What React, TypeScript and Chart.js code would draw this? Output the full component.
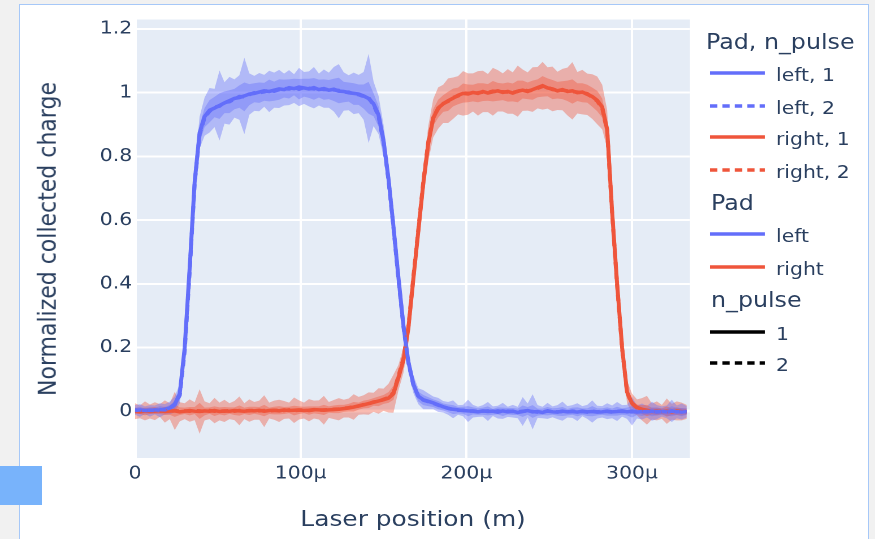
import React, { useEffect, useRef } from 'react';
import { Chart, registerables } from 'chart.js';

Chart.register(...registerables);

// horizontal stretch of the reference picture
const CW = 774;
const CH = 539;
const K = 875 / CW;

// ---------------- data (laser position in µm) ----------------
const X_UM = [
  0, 3, 6, 9, 12, 15, 18, 21, 24, 27,
  30, 33, 36, 39, 42, 45, 48, 51, 54, 57,
  60, 63, 66, 69, 72, 75, 78, 81, 84, 87,
  90, 93, 96, 99, 102, 105, 108, 111, 114, 117,
  120, 123, 126, 129, 132, 135, 138, 141, 144, 147,
  150, 153, 156, 159, 162, 165, 168, 171, 174, 177,
  180, 183, 186, 189, 192, 195, 198, 201, 204, 207,
  210, 213, 216, 219, 222, 225, 228, 231, 234, 237,
  240, 243, 246, 249, 252, 255, 258, 261, 264, 267,
  270, 273, 276, 279, 282, 285, 288, 291, 294, 297,
  300, 303, 306, 309, 312, 315, 318, 321, 324, 327, 330, 333,
];

const LEFT_N1 = [
  0.004, 0.002, 0.003, 0.001, 0.004, 0.003, 0.006, 0.01, 0.022, 0.055,
  0.2, 0.45, 0.72, 0.875, 0.925, 0.945, 0.952, 0.96, 0.968, 0.975,
  0.982, 0.985, 0.99, 0.996, 0.998, 1.002, 1.006, 1.004, 1.008, 1.012,
  1.01, 1.016, 1.013, 1.018, 1.015, 1.012, 1.016, 1.01, 1.013, 1.008,
  1.011, 1.005, 1.004, 1.0, 0.998, 0.996, 0.99, 0.982, 0.965, 0.93,
  0.85, 0.73, 0.58, 0.42, 0.27, 0.155, 0.085, 0.047, 0.036, 0.031,
  0.026, 0.02, 0.014, 0.009, 0.006, 0.004, 0.002, 0.001, 0.0, -0.002,
  0.001, -0.001, 0.0, -0.003, 0.001, -0.002, 0.0, -0.004, -0.001, 0.002,
  -0.002, -0.001, -0.004, 0.001, -0.002, -0.003, 0.0, -0.002, -0.001, -0.003,
  0.0, -0.002, -0.001, -0.003, -0.002, 0.0, -0.002, -0.001, 0.001, -0.002,
  0.0, -0.003, -0.001, -0.002, 0.0, -0.003, -0.001, -0.002, 0.001, -0.002, -0.001, -0.002,
];
const LEFT_N2 = [
  0.002, 0.004, 0.001, 0.003, 0.002, 0.005, 0.004, 0.009, 0.02, 0.05,
  0.19, 0.44, 0.715, 0.87, 0.922, 0.942, 0.955, 0.958, 0.97, 0.972,
  0.98, 0.988, 0.987, 0.994, 1.0, 1.0, 1.003, 1.007, 1.005, 1.01,
  1.013, 1.012, 1.018, 1.011, 1.016, 1.014, 1.012, 1.013, 1.01, 1.01,
  1.009, 1.007, 1.002, 1.002, 0.996, 0.994, 0.988, 0.984, 0.962, 0.926,
  0.846, 0.725, 0.576, 0.416, 0.266, 0.152, 0.083, 0.046, 0.035, 0.03,
  0.025, 0.019, 0.013, 0.009, 0.005, 0.003, 0.003, 0.0, 0.001, -0.001,
  0.0, 0.001, -0.002, 0.001, -0.002, 0.0, -0.001, -0.002, 0.0, 0.001,
  -0.001, -0.003, -0.002, 0.0, -0.001, -0.002, -0.001, -0.003, 0.0, -0.002,
  -0.001, -0.003, 0.0, -0.002, -0.001, -0.001, -0.003, 0.0, -0.001, -0.001,
  -0.002, -0.001, -0.002, -0.001, -0.002, -0.001, -0.002, -0.003, 0.0, -0.001, -0.003, -0.001,
];
const LEFT_ERR_N1 = [
  0.015, 0.02, 0.012, 0.018, 0.014, 0.022, 0.016, 0.02, 0.025, 0.03,
  0.035, 0.04, 0.045, 0.05, 0.06, 0.07, 0.06, 0.11, 0.065, 0.075,
  0.06, 0.07, 0.12, 0.065, 0.055, 0.06, 0.05, 0.065, 0.055, 0.06,
  0.05, 0.055, 0.045, 0.06, 0.05, 0.055, 0.065, 0.05, 0.06, 0.055,
  0.07, 0.085, 0.06, 0.055, 0.065, 0.06, 0.075, 0.14, 0.07, 0.06,
  0.05, 0.045, 0.04, 0.035, 0.03, 0.03, 0.028, 0.025, 0.03, 0.025,
  0.02, 0.022, 0.018, 0.02, 0.028, 0.015, 0.018, 0.035, 0.02, 0.016,
  0.018, 0.03, 0.015, 0.02, 0.025, 0.016, 0.02, 0.018, 0.045, 0.022,
  0.055, 0.02, 0.018, 0.025, 0.017, 0.022, 0.03, 0.018, 0.02, 0.028,
  0.016, 0.022, 0.035, 0.02, 0.018, 0.025, 0.02, 0.03, 0.018, 0.022,
  0.045, 0.02, 0.025, 0.018, 0.03, 0.022, 0.016, 0.02, 0.035, 0.02, 0.025, 0.018,
];
const LEFT_ERR_N2 = [
  0.008, 0.01, 0.007, 0.009, 0.008, 0.011, 0.009, 0.01, 0.012, 0.015,
  0.02, 0.022, 0.025, 0.028, 0.03, 0.035, 0.032, 0.04, 0.034, 0.036,
  0.032, 0.035, 0.045, 0.033, 0.03, 0.032, 0.028, 0.034, 0.03, 0.032,
  0.028, 0.03, 0.026, 0.032, 0.028, 0.03, 0.034, 0.028, 0.032, 0.03,
  0.035, 0.04, 0.032, 0.03, 0.034, 0.032, 0.038, 0.05, 0.036, 0.032,
  0.028, 0.025, 0.022, 0.02, 0.018, 0.018, 0.016, 0.015, 0.016, 0.014,
  0.012, 0.013, 0.011, 0.012, 0.014, 0.01, 0.011, 0.016, 0.011, 0.01,
  0.011, 0.014, 0.009, 0.011, 0.013, 0.01, 0.011, 0.01, 0.018, 0.012,
  0.02, 0.011, 0.01, 0.013, 0.01, 0.012, 0.014, 0.01, 0.011, 0.014,
  0.01, 0.012, 0.016, 0.011, 0.01, 0.013, 0.011, 0.014, 0.01, 0.012,
  0.018, 0.011, 0.013, 0.01, 0.014, 0.012, 0.01, 0.011, 0.016, 0.011, 0.013, 0.01,
];

const RIGHT_N1 = [
  0.0, -0.002, 0.001, -0.001, 0.0, 0.002, -0.001, 0.0, 0.001, -0.002,
  0.0, 0.002, 0.0, -0.001, 0.001, 0.0, 0.002, -0.001, 0.001, 0.0,
  0.002, 0.001, 0.0, 0.002, 0.001, 0.003, 0.0, 0.002, 0.003, 0.001,
  0.004, 0.002, 0.003, 0.004, 0.002, 0.003, 0.005, 0.004, 0.003, 0.004,
  0.005, 0.006, 0.008, 0.01, 0.013, 0.017, 0.02, 0.024, 0.028, 0.032,
  0.036, 0.041, 0.055, 0.105, 0.16, 0.26, 0.415, 0.565, 0.715, 0.84,
  0.92, 0.952, 0.965, 0.975, 0.983, 0.992, 0.998, 0.996, 1.001, 0.998,
  1.004, 0.999, 1.003, 1.006, 1.001, 1.004, 0.999, 1.005, 1.008, 1.004,
  1.01, 1.016, 1.022, 1.015, 1.012, 1.006, 1.01, 1.004, 1.006, 1.0,
  1.002, 0.995, 0.988, 0.976, 0.955, 0.885, 0.625, 0.4, 0.2, 0.06,
  0.025, 0.012, 0.006, 0.003, -0.001, 0.001, -0.002, 0.0, -0.002, 0.001, -0.001, -0.002,
];
const RIGHT_N2 = [
  0.001, 0.0, -0.001, 0.001, 0.002, 0.0, 0.001, -0.001, 0.002, 0.0,
  0.001, 0.0, 0.002, 0.001, -0.001, 0.002, 0.0, 0.001, 0.0, 0.002,
  0.0, 0.002, 0.001, 0.001, 0.003, 0.001, 0.002, 0.001, 0.002, 0.003,
  0.002, 0.004, 0.002, 0.003, 0.004, 0.002, 0.004, 0.003, 0.004, 0.005,
  0.006, 0.007, 0.009, 0.011, 0.014, 0.016, 0.021, 0.023, 0.029, 0.031,
  0.037, 0.043, 0.058, 0.11, 0.165, 0.265, 0.42, 0.57, 0.72, 0.845,
  0.922, 0.95, 0.966, 0.973, 0.985, 0.99, 0.999, 0.998, 0.999, 1.0,
  1.002, 1.001, 1.005, 1.003, 1.003, 1.002, 1.001, 1.004, 1.01, 1.006,
  1.008, 1.014, 1.02, 1.017, 1.01, 1.008, 1.008, 1.006, 1.004, 1.002,
  1.0, 0.997, 0.986, 0.974, 0.952, 0.88, 0.62, 0.395, 0.198, 0.058,
  0.024, 0.011, 0.005, 0.002, 0.0, -0.001, 0.0, -0.001, -0.002, 0.0, -0.002, -0.001,
];
const RIGHT_ERR_N1 = [
  0.025, 0.02, 0.03, 0.022, 0.028, 0.02, 0.035, 0.025, 0.06, 0.03,
  0.025, 0.035, 0.028, 0.07, 0.03, 0.025, 0.04, 0.028, 0.035, 0.025,
  0.03, 0.045, 0.025, 0.035, 0.028, 0.03, 0.05, 0.025, 0.03, 0.035,
  0.028, 0.025, 0.04, 0.03, 0.025, 0.035, 0.028, 0.03, 0.045, 0.025,
  0.03, 0.035, 0.028, 0.03, 0.04, 0.028, 0.03, 0.035, 0.03, 0.04,
  0.035, 0.045, 0.06, 0.04, 0.04, 0.045, 0.045, 0.05, 0.05, 0.055,
  0.06, 0.065, 0.06, 0.07, 0.065, 0.06, 0.07, 0.065, 0.06, 0.07,
  0.065, 0.06, 0.075, 0.065, 0.06, 0.07, 0.065, 0.08, 0.065, 0.06,
  0.07, 0.065, 0.075, 0.065, 0.07, 0.06, 0.065, 0.075, 0.09, 0.065,
  0.07, 0.065, 0.07, 0.075, 0.07, 0.06, 0.05, 0.045, 0.04, 0.035,
  0.03, 0.025, 0.035, 0.045, 0.025, 0.03, 0.022, 0.04, 0.025, 0.03, 0.028, 0.022,
];
const RIGHT_ERR_N2 = [
  0.01, 0.009, 0.012, 0.01, 0.011, 0.009, 0.013, 0.01, 0.02, 0.012,
  0.01, 0.013, 0.011, 0.025, 0.012, 0.01, 0.015, 0.011, 0.013, 0.01,
  0.012, 0.016, 0.01, 0.013, 0.011, 0.012, 0.018, 0.01, 0.012, 0.013,
  0.011, 0.01, 0.015, 0.012, 0.01, 0.013, 0.011, 0.012, 0.016, 0.01,
  0.012, 0.013, 0.011, 0.012, 0.015, 0.011, 0.012, 0.013, 0.012, 0.015,
  0.014, 0.017, 0.022, 0.018, 0.018, 0.02, 0.02, 0.022, 0.022, 0.024,
  0.026, 0.028, 0.026, 0.03, 0.028, 0.026, 0.03, 0.028, 0.026, 0.03,
  0.028, 0.026, 0.032, 0.028, 0.026, 0.03, 0.028, 0.034, 0.028, 0.026,
  0.03, 0.028, 0.032, 0.028, 0.03, 0.026, 0.028, 0.032, 0.038, 0.028,
  0.03, 0.028, 0.03, 0.032, 0.03, 0.026, 0.022, 0.02, 0.018, 0.015,
  0.012, 0.01, 0.014, 0.018, 0.01, 0.012, 0.009, 0.016, 0.01, 0.012, 0.011, 0.009,
];

const X_RANGE = [0, 335];
const Y_RANGE = [-0.147, 1.23];
const X_TICKS = [0, 100, 200, 300];
const Y_TICKS = [0, 0.2, 0.4, 0.6, 0.8, 1, 1.2];

const X_TITLE = 'Laser position (m)';
const Y_TITLE = 'Normalized collected charge';

const BLUE = '#636efa';
const RED = '#ef553b';
const BLUE_BAND = 'rgba(99,110,250,0.4)';
const RED_BAND = 'rgba(239,85,59,0.4)';
const TEXT = '#2a3f5f';
const FONT = "'DejaVu Sans', Verdana, sans-serif";

const LEGEND_GROUPS = [
  { title: 'Pad, n_pulse', items: [
    { label: 'left, 1', color: BLUE, dash: false },
    { label: 'left, 2', color: BLUE, dash: true },
    { label: 'right, 1', color: RED, dash: false },
    { label: 'right, 2', color: RED, dash: true },
  ] },
  { title: 'Pad', items: [
    { label: 'left', color: BLUE, dash: false },
    { label: 'right', color: RED, dash: false },
  ] },
  { title: 'n_pulse', items: [
    { label: '1', color: '#000', dash: false },
    { label: '2', color: '#000', dash: true },
  ] },
];

// legend layout (reference pixel coordinates)
const LG_TITLE_Y = [42.5, 203.3, 300];
const LG_TITLE_X = [706, 711, 711];
const LG_ITEM_Y = [[73.3, 106, 137.3, 169.7], [234, 266.7], [331.7, 363.3]];

const pts = (ys: number[]) => X_UM.map((x, i) => ({ x, y: ys[i] }));
const band = (m: number[], e: number[], s: number) => X_UM.map((x, i) => ({ x, y: m[i] + s * e[i] }));

const plotBg = {
  id: 'plotBg',
  beforeDraw(chart: any) {
    const { ctx, chartArea: a } = chart;
    ctx.save();
    ctx.fillStyle = '#e5ecf6';
    ctx.fillRect(a.left, a.top, a.right - a.left, a.bottom - a.top);
    ctx.restore();
  },
};

function ChartCanvas() {
  const ref = useRef<HTMLCanvasElement | null>(null);
  useEffect(() => {
    if (!ref.current) return;
    const lineDs = (label: string, data: number[], color: string, dash: boolean) => ({
      label, data: pts(data), borderColor: color, borderWidth: 3.5,
      borderDash: dash ? [6, 5] : [], pointRadius: 0, fill: false, tension: 0,
    });
    const bandDs = (label: string, data: any[], color: string | null) => ({
      label, data, borderColor: 'transparent', borderWidth: 0, pointRadius: 0,
      backgroundColor: color || 'transparent', fill: color ? '+1' : false, tension: 0,
    });
    const chart = new Chart(ref.current, {
      type: 'line',
      data: {
        datasets: [
          lineDs('left, 2', LEFT_N2, BLUE, true),
          lineDs('right, 2', RIGHT_N2, RED, true),
          lineDs('left, 1', LEFT_N1, BLUE, false),
          lineDs('right, 1', RIGHT_N1, RED, false),
          bandDs('left 2 hi', band(LEFT_N2, LEFT_ERR_N2, 1), BLUE_BAND),
          bandDs('left 2 lo', band(LEFT_N2, LEFT_ERR_N2, -1), null),
          bandDs('right 2 hi', band(RIGHT_N2, RIGHT_ERR_N2, 1), RED_BAND),
          bandDs('right 2 lo', band(RIGHT_N2, RIGHT_ERR_N2, -1), null),
          bandDs('left 1 hi', band(LEFT_N1, LEFT_ERR_N1, 1), BLUE_BAND),
          bandDs('left 1 lo', band(LEFT_N1, LEFT_ERR_N1, -1), null),
          bandDs('right 1 hi', band(RIGHT_N1, RIGHT_ERR_N1, 1), RED_BAND),
          bandDs('right 1 lo', band(RIGHT_N1, RIGHT_ERR_N1, -1), null),
        ] as any,
      },
      options: {
        animation: false,
        responsive: false,
        devicePixelRatio: 2,
        events: [],
        layout: { padding: { left: 0, top: 19.5, right: CW - 690 / K, bottom: 0 } },
        plugins: { legend: { display: false }, tooltip: { enabled: false } },
        scales: {
          x: {
            type: 'linear',
            min: X_RANGE[0],
            max: X_RANGE[1],
            afterFit: (s: any) => { s.height = CH - 458; },
            afterBuildTicks: (s: any) => { s.ticks = X_TICKS.map((v) => ({ value: v })); },
            grid: { color: '#ffffff', lineWidth: (c: any) => (c.tick && c.tick.value === 0 ? 3 : 2), drawTicks: false },
            border: { display: false },
            ticks: {
              padding: 5, color: TEXT, font: { family: FONT, size: 18 }, maxRotation: 0, autoSkip: false,
              callback: (v: any) => (Number(v) === 0 ? '0' : `${v}\u03bc`),
            },
          },
          y: {
            type: 'linear',
            min: Y_RANGE[0],
            max: Y_RANGE[1],
            afterFit: (s: any) => { s.width = 135 / K; },
            afterBuildTicks: (s: any) => { s.ticks = Y_TICKS.map((v) => ({ value: v })); },
            grid: { color: '#ffffff', lineWidth: (c: any) => (c.tick && c.tick.value === 0 ? 3 : 2), drawTicks: false },
            border: { display: false },
            ticks: {
              padding: 2.5, color: TEXT, font: { family: FONT, size: 18 }, autoSkip: false,
              callback: (v: any) => String(Number(Number(v).toFixed(1))),
            },
          },
        },
      } as any,
      plugins: [plotBg],
    });
    return () => chart.destroy();
  }, []);
  return <canvas ref={ref} width={CW} height={CH} style={{ position: 'absolute', left: 0, top: 0 }} />;
}

function Legend() {
  const lineX1 = 710 / K;
  const lineX2 = 765 / K;
  const textX = 776 / K;
  const out: any[] = [];
  LEGEND_GROUPS.forEach((g, gi) => {
    const ty = LG_TITLE_Y[gi];
    out.push(
      <div key={`t${gi}`} style={{ position: 'absolute', left: LG_TITLE_X[gi] / K, top: ty - 10.5, fontSize: 21, lineHeight: '21px', whiteSpace: 'nowrap', color: TEXT, fontFamily: FONT }}>
        {g.title}
      </div>
    );
    g.items.forEach((it, ii) => {
      const y = LG_ITEM_Y[gi][ii];
      out.push(
        <svg key={`l${gi}-${ii}`} width={lineX2 - lineX1} height={10} style={{ position: 'absolute', left: lineX1, top: y - 5 }}>
          <line x1={0} y1={5} x2={lineX2 - lineX1} y2={5} stroke={it.color} strokeWidth={3.5} strokeDasharray={it.dash ? '6.5 4.5' : undefined} />
        </svg>
      );
      out.push(
        <div key={`x${gi}-${ii}`} style={{ position: 'absolute', left: textX, top: y + 2 - 9, fontSize: 18, lineHeight: '18px', whiteSpace: 'nowrap', color: TEXT, fontFamily: FONT }}>
          {it.label}
        </div>
      );
    });
  });
  return <>{out}</>;
}

export default function App() {
  return (
    <div style={{ position: 'fixed', left: 0, top: 0, width: 875, height: 539, background: '#f1f1f1', overflow: 'hidden' }}>
      <div style={{ position: 'absolute', left: 19, top: 4, width: 850, height: 600, boxSizing: 'border-box', border: '1.5px solid #a6c8f8', background: '#ffffff' }} />
      <div style={{ position: 'absolute', left: 0, top: 0, width: CW, height: CH, transform: `scaleX(${K})`, transformOrigin: '0 0' }}>
        <ChartCanvas />
        <Legend />
        <div style={{ position: 'absolute', left: 365.4 - 200, top: 508, width: 400, height: 22, lineHeight: '22px', fontSize: 22, textAlign: 'center', color: TEXT, fontFamily: FONT, whiteSpace: 'nowrap' }}>
          {X_TITLE}
        </div>
        <div style={{ position: 'absolute', left: 41.9 - 200, top: 239.2 - 11, width: 400, height: 22, lineHeight: '22px', fontSize: 22, textAlign: 'center', color: TEXT, fontFamily: FONT, whiteSpace: 'nowrap', transform: 'rotate(-90deg)', transformOrigin: '50% 50%' }}>
          {Y_TITLE}
        </div>
      </div>
      <div style={{ position: 'absolute', left: 0, top: 466, width: 42, height: 39, background: '#78b3fb' }} />
    </div>
  );
}
